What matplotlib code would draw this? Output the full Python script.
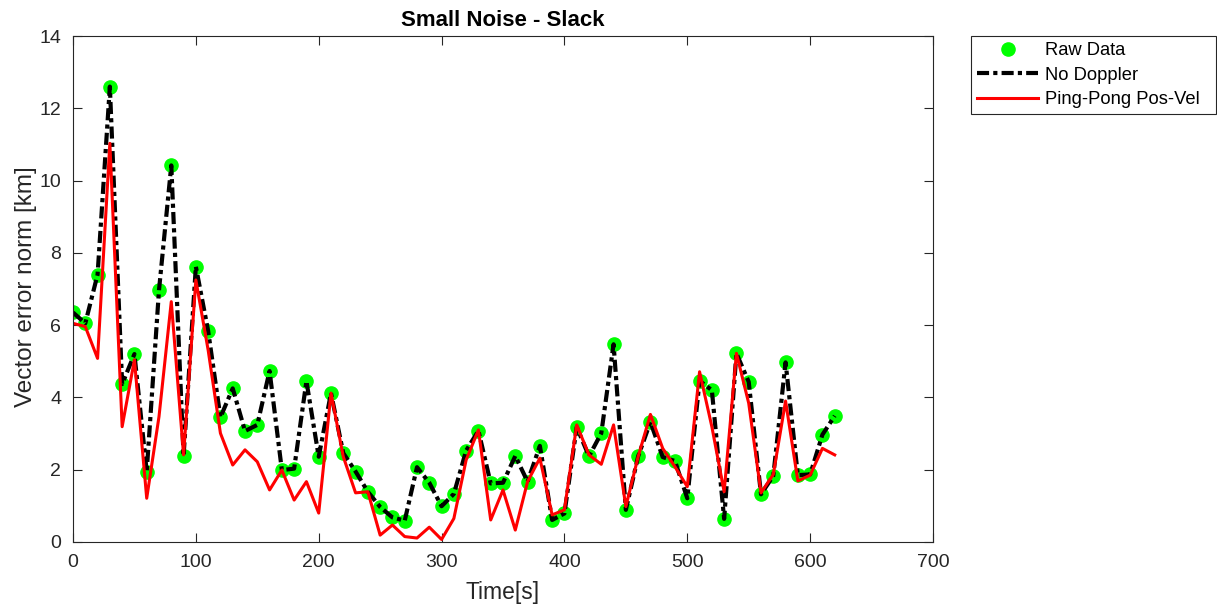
import matplotlib
matplotlib.use('Agg')
import matplotlib.pyplot as plt

plt.rcParams['font.family'] = ['Liberation Sans', 'DejaVu Sans']

# time stamps [s]
time_s = list(range(0, 630, 10))

raw_data = [6.35, 6.05, 7.4, 12.6, 4.37, 5.2, 1.95, 6.97, 10.42, 2.38,
            7.62, 5.84, 3.45, 4.25, 3.07, 3.24, 4.73, 1.99, 2.03, 4.45,
            2.36, 4.12, 2.46, 1.95, 1.39, 0.97, 0.68, 0.59, 2.07, 1.64,
            0.99, 1.33, 2.53, 3.08, 1.62, 1.64, 2.38, 1.67, 2.66, 0.61,
            0.79, 3.18, 2.37, 3.01, 5.47, 0.89, 2.37, 3.32, 2.35, 2.24,
            1.21, 4.46, 4.2, 0.64, 5.22, 4.43, 1.32, 1.83, 4.97, 1.85,
            1.87, 2.97, 3.49]

no_doppler = list(raw_data)

ping_pong = [6.05, 5.96, 5.08, 11.03, 3.19, 5.04, 1.21, 3.47, 6.65, 2.41,
             7.25, 5.31, 3.01, 2.13, 2.55, 2.22, 1.44, 1.99, 1.16, 1.67,
             0.8, 4.12, 2.36, 1.36, 1.39, 0.19, 0.47, 0.15, 0.11, 0.41,
             0.07, 0.65, 2.27, 3.1, 0.61, 1.44, 0.33, 1.67, 2.32, 0.75,
             0.89, 3.24, 2.41, 2.15, 3.24, 0.98, 2.36, 3.53, 2.59, 2.08,
             1.53, 4.71, 3.19, 1.39, 5.22, 3.84, 1.36, 1.87, 3.9, 1.69,
             1.85, 2.59, 2.41]

fig = plt.figure(figsize=(12.17, 6.08), dpi=100)
# axes box: x 73..933 px, y 36..542 px
ax = fig.add_axes([73 / 1217, 1 - 542 / 608, 860 / 1217, 506 / 608])

ax.plot(time_s, raw_data, 'o', color='#00ff00', markersize=9.5, label='Raw Data')
ax.plot(time_s, no_doppler, '-.', color='black', linewidth=3,
        dashes=(2.9, 1, 1, 1), label='No Doppler')
ax.plot(time_s, ping_pong, '-', color='#ff0000', linewidth=2.2,
        label='Ping-Pong Pos-Vel')

ax.set_xlim(0, 700)
ax.set_ylim(0, 14)
ax.set_xticks(range(0, 800, 100))
ax.set_yticks(range(0, 16, 2))
ax.tick_params(direction='in', labelsize=14, colors='#262626', length=6.5,
               pad=8.5, top=True, right=True, labeltop=False, labelright=False)
for sp in ax.spines.values():
    sp.set_color('#262626')
    sp.set_linewidth(0.8)

ax.set_xlabel('Time[s]', fontsize=16.5, color='#262626')
ax.set_ylabel('Vector error norm [km]', fontsize=17.5, color='#262626')
ax.xaxis.set_label_coords(0.5, -0.077)
ax.yaxis.set_label_coords(-0.042, 0.505)
ax.set_title('Small Noise - Slack', fontsize=16, fontweight='bold', pad=7)

leg = fig.legend(loc='upper left',
                 bbox_to_anchor=(971 / 1217, 1 - 113 / 608, 245 / 1217, 77 / 608),
                 mode='expand', fontsize=13.2, fancybox=False, framealpha=1,
                 edgecolor='#262626', borderpad=0.35, labelspacing=0.4,
                 handlelength=3.33, handletextpad=0.33, borderaxespad=0)
leg.get_frame().set_linewidth(0.8)

fig.savefig('out.png', dpi=100)
